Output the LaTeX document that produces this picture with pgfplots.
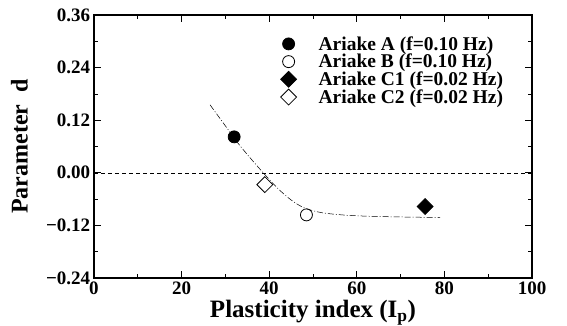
\documentclass[border=0pt]{standalone}
\usepackage{pgfplots}
\pgfplotsset{compat=1.18}
\usepackage{fontspec}
\setmainfont{Liberation Serif}
\begin{document}
\begin{tikzpicture}[x=1pt,y=1pt]
\path[use as bounding box] (-94,-47) rectangle (473,278);
\begin{axis}[
  at={(0,0)}, anchor=south west,
  scale only axis, width=438pt, height=263pt,
  xmin=0, xmax=100, ymin=-0.24, ymax=0.36,
  xtick={0,20,...,100}, minor x tick num=1,
  ytick={-0.24,-0.12,0,0.12,0.24,0.36},
  yticklabels={−0.24,−0.12,0.00,0.12,0.24,0.36},
  minor y tick num=1,
  tick align=inside, major tick length=7pt, minor tick length=4pt,
  line width=1.1pt,
  every tick/.style={line width=0.8pt},
  /pgf/number format/assume math mode=true,
  tick label style={font=\fontsize{19}{19}\selectfont\bfseries},
  xlabel={Plasticity index (I\textsubscript{p})},
  ylabel={Parameter\ \ d},
  label style={font=\fontsize{25}{25}\selectfont\bfseries},
  xlabel style={at={(axis description cs:0.5,-0.133)}, anchor=center},
  ylabel style={at={(axis description cs:-0.17,0.5)}, anchor=center, font=\fontsize{24}{24}\selectfont\bfseries},
  legend style={draw=none, fill=none, at={(axis description cs:0.425,0.925)}, anchor=north west,
    font=\fontsize{19.5}{19.5}\selectfont\bfseries, row sep=0.5pt, inner sep=0pt,
    nodes={inner ysep=1pt}},
  legend cell align=left,
  legend image code/.code={\path[draw=none,fill=none] (-7pt,-6pt) rectangle (28pt,6pt); \draw[#1] plot coordinates {(0pt,0pt)};},
  clip=false,
]
\addplot[only marks, mark=*, mark size=6pt, black, line width=0.8pt] coordinates {(32,0.082)};
\addlegendentry{Ariake A (f=0.10 Hz)}
\addplot[only marks, mark=o, mark size=6pt, black, line width=0.8pt] coordinates {(48.5,-0.096)};
\addlegendentry{Ariake B (f=0.10 Hz)}
\addplot[only marks, mark=square*, mark size=5.6pt, mark options={rotate=45}, black, fill=black, line width=0.8pt] coordinates {(75.6,-0.077)};
\addlegendentry{Ariake C1 (f=0.02 Hz)}
\addplot[only marks, mark=square, mark size=5.6pt, mark options={rotate=45}, black, line width=0.8pt] coordinates {(39,-0.027)};
\addlegendentry{Ariake C2 (f=0.02 Hz)}
\addplot[black, line width=0.5pt, dash pattern=on 4pt off 3pt, forget plot] coordinates {(0,0) (100,0)};
\addplot[black, line width=0.5pt, smooth, dash pattern=on 6pt off 2pt on 1pt off 2pt, forget plot] coordinates {
(26.5,0.155) (30,0.107) (33,0.066) (36,0.030) (39,-0.004) (42,-0.036) (45,-0.062) (48,-0.080) (52,-0.091) (58,-0.097) (66,-0.100) (79,-0.102)};
\end{axis}
\end{tikzpicture}
\end{document}
